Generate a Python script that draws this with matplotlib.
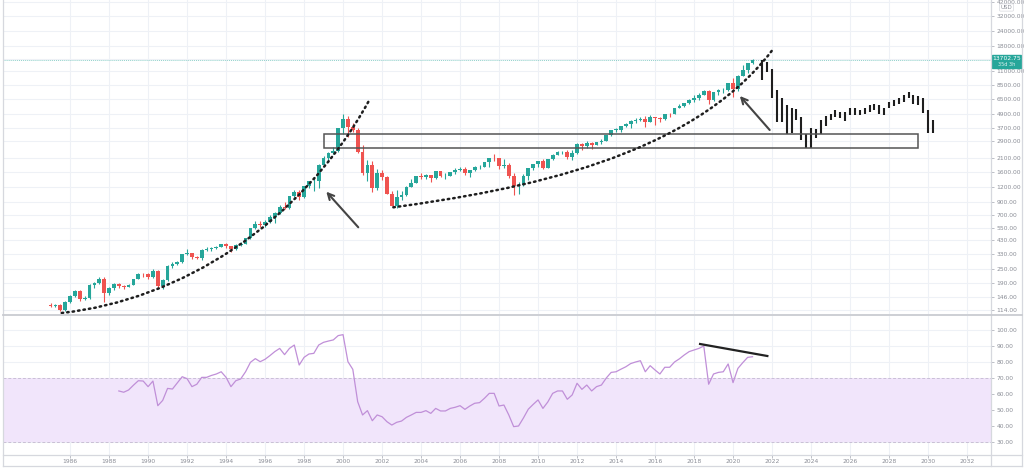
import numpy as np
import matplotlib
matplotlib.use("Agg")
import matplotlib.pyplot as plt
from matplotlib.patches import Rectangle, PathPatch
from matplotlib.path import Path
from matplotlib.lines import Line2D

# quarterly candles, 1985 Q1 .. 2021 Q1
first_year = 1985.0
first_open = 125
closes = [122, 124, 113, 132,  148, 162, 139, 141,  182, 190, 205, 156,
          171, 186, 180, 177,  183, 204, 226, 224,  212, 240, 179, 200,
          263, 275, 286, 331,  336, 311, 305, 360,  363, 372, 380, 398,
          384, 362, 394, 404,  448, 542, 590, 576,  612, 678, 730, 821,
          806, 1000, 1097, 991,  1220, 1337, 1345, 1836,  2106, 2296, 2407, 3708,
          4397, 3763, 3570, 2342,  1573, 1830, 1168, 1577,  1452, 1051, 832, 984,
          1018, 1201, 1303, 1468,  1438, 1516, 1412, 1621,  1483, 1493, 1601, 1645,
          1703, 1575, 1654, 1757,  1772, 1934, 2091, 2085,  1781, 1837, 1483, 1212,
          1237, 1477, 1720, 1860,  1957, 1740, 2036, 2218,  2338, 2340, 2135, 2278,
          2755, 2616, 2799, 2661,  2818, 2910, 3218, 3592,  3596, 3850, 4050, 4236,
          4334, 4397, 4181, 4593,  4484, 4418, 4875, 4864,  5436, 5647, 5980, 6396,
          6581, 7040, 7628, 6330,  7378, 7672, 7750, 8733,  7813, 10157, 11418, 12888,
          13703]
highs = [130, 128, 127, 134,  152, 166, 165, 147,  186, 194, 213, 214,
         176, 189, 190, 184,  186, 205, 229, 232,  228, 246, 244, 204,
         266, 285, 292, 333,  364, 340, 320, 362,  378, 380, 388, 405,
         412, 388, 398, 420,  450, 545, 624, 620,  640, 700, 735, 850,
         900, 1010, 1140, 1130,  1230, 1340, 1450, 1850,  2180, 2330, 2560, 3720,
         4816, 4710, 4100, 3700,  2700, 2020, 1980, 1700,  1670, 1480, 1100, 1120,
         1100, 1230, 1400, 1480,  1560, 1530, 1520, 1630,  1630, 1560, 1610, 1720,
         1750, 1760, 1670, 1800,  1840, 1950, 2100, 2239,  2090, 2060, 1900, 1560,
         1320, 1530, 1730, 1870,  1970, 2040, 2040, 2240,  2400, 2400, 2440, 2420,
         2760, 2790, 2880, 2860,  2850, 3030, 3250, 3600,  3740, 3860, 4120, 4330,
         4480, 4570, 4700, 4730,  4610, 4580, 4890, 4930,  5440, 5900, 6000, 6450,
         7020, 7280, 7700, 7700,  7480, 7850, 8040, 8740,  9720, 10300, 12440, 12930,
         13870]
lows = [119, 119, 111, 111,  130, 144, 134, 136,  140, 172, 187, 131,
        152, 166, 172, 170,  175, 181, 203, 212,  205, 210, 172, 168,
        197, 254, 268, 278,  325, 301, 300, 296,  350, 352, 365, 377,
        375, 345, 358, 388,  398, 445, 540, 560,  560, 600, 600, 720,
        790, 780, 990, 930,  970, 1170, 1110, 1180,  1800, 1930, 2240, 2330,
        3340, 3100, 3440, 2280,  1520, 1350, 1090, 1140,  1380, 1040, 830, 795,
        935, 1010, 1190, 1300,  1400, 1390, 1330, 1400,  1460, 1390, 1490, 1530,
        1640, 1510, 1450, 1640,  1700, 1760, 1770, 1990,  1700, 1740, 1430, 1018,
        1043, 1210, 1380, 1650,  1750, 1700, 1730, 2010,  2200, 2250, 2040, 2030,
        2270, 2450, 2540, 2500,  2660, 2750, 2890, 3160,  3420, 3410, 3770, 3700,
        4090, 4290, 3790, 4170,  3950, 4200, 4350, 4590,  4860, 5430, 5590, 5930,
        6170, 6310, 7000, 5895,  6290, 6980, 7320, 7560,  6771, 7500, 10000, 10680,
        12600]

# projected (drawn) bars, 2021 Q3 .. 2030 Q2
proj_start = 2021.5
proj_high = [13703, 13264, 11614, 7704, 6559, 5776, 5421, 5319, 4576, 3281, 3730, 3617,
             4333, 4638, 4899, 5209, 5045, 5045, 5421, 5421, 5209, 5421, 5776, 5891,
             5776, 5500, 6125, 6329, 6559, 6976, 7436, 6976, 6843, 6559, 5209, 4333]
proj_low = [9265, 10903, 6559, 4192, 4192, 3281, 3387, 4333, 2977, 2525, 2525, 3071,
            3281, 3853, 4333, 4576, 4523, 4276, 4729, 4729, 4729, 4899, 5045, 5209,
            4823, 4729, 5421, 5667, 5891, 6125, 6559, 5942, 5776, 4954, 3387, 3387]

# RSI(14), quarterly, 1988 Q3 .. 2021 Q1
rsi_start = 1988.5
rsi = [61.9, 61.1, 62.5, 65.5, 68.3, 68.1, 64.6, 68.1, 52.7, 56.0, 63.5, 63.1,
       67.0, 70.8, 69.6, 64.6, 66.1, 70.4, 70.4, 71.6, 72.5, 73.9, 70.4, 64.6,
       68.3, 69.4, 73.9, 79.8, 82.1, 80.2, 81.7, 84.0, 86.5, 88.5, 84.6, 88.5,
       90.6, 78.1, 82.9, 85.0, 85.4, 90.6, 92.3, 93.1, 93.8, 96.5, 97.1, 80.2,
       75.4, 55.2, 46.9, 49.6, 43.3, 46.9, 45.8, 42.7, 40.6, 42.3, 43.1, 45.4,
       46.9, 48.5, 48.5, 49.6, 47.9, 51.0, 49.4, 49.4, 51.0, 51.7, 52.7, 50.4,
       52.5, 54.2, 54.6, 57.3, 60.4, 60.4, 52.5, 53.1, 46.9, 39.6, 40.0, 45.0,
       50.5, 53.5, 56.3, 51.0, 55.0, 60.4, 61.9, 61.9, 56.7, 59.4, 66.7, 62.9,
       65.6, 61.9, 64.6, 65.6, 70.0, 73.5, 73.9, 75.5, 77.0, 79.0, 80.0, 80.8,
       73.9, 77.7, 75.0, 72.5, 76.7, 76.7, 80.0, 82.0, 84.4, 86.5, 87.5, 88.5,
       90.0, 66.1, 72.5, 73.5, 73.9, 78.8, 67.1, 76.0, 79.6, 82.9, 83.3]

last_price = 13702.75
price_ticks = [114, 146, 190, 250, 330, 430, 550, 700, 900, 1200, 1600, 2100, 2900,
               3700, 4900, 6500, 8500, 11000, 14000, 18000, 24000, 32000, 42000]
hidden_tick = 14000  # sits behind the last-price label
rsi_ticks = [30, 40, 50, 60, 70, 80, 90, 100]
year_ticks = list(range(1986, 2033, 2))

# drawings
box_years = (1999.03, 2029.5)
box_prices = (2525, 3298)
curve1 = [(1985.57, 106.8), (1991.64, 137.0), (1997.80, 578), (2001.30, 6157)]
curve2 = [(2002.58, 811), (2009.08, 1131), (2017.80, 2091), (2021.99, 16364)]
arrow1 = ((2000.78, 553), (1999.14, 1095))
arrow2 = ((2021.88, 3577), (2020.35, 6868))
rsi_trend = ((2018.31, 91.25), (2021.76, 83.75))

UP, DOWN = "#26a69a", "#ef5350"
GRID = "#eef1f6"
TXT = "#8a8d96"
W, H = 1024, 469

fig = plt.figure(figsize=(10.24, 4.69), dpi=100)
fig.patch.set_facecolor("white")
ax = fig.add_axes([3 / W, 1 - 314 / H, 988 / W, 314 / H])
ax2 = fig.add_axes([3 / W, 1 - 455 / H, 988 / W, 139 / H])

for a in (ax, ax2):
    a.set_xlim(1982.56, 2033.23)
    for s in a.spines.values():
        s.set_visible(False)
    a.set_xticks(year_ticks)
    a.grid(True, color=GRID, lw=0.8)
    a.set_axisbelow(True)
    a.yaxis.tick_right()
    a.tick_params(axis="y", length=2.5, width=0.6, color="#b2b5be",
                  labelsize=4.3, labelcolor=TXT, pad=1.5)

# candles
n = len(closes)
x = first_year + 0.25 * np.arange(n)
c = np.array(closes, float)
o = np.concatenate([[first_open], c[:-1]])
hi = np.array(highs, float)
lo = np.array(lows, float)
col = np.where(c >= o, UP, DOWN)
ax.vlines(x, lo, hi, colors=col, lw=0.8, zorder=3)
bot = np.minimum(o, c)
top = np.maximum(np.maximum(o, c), bot * 1.006)
ax.bar(x, top - bot, bottom=bot, width=0.19, color=col, lw=0, zorder=4)

# projected bars
xp = proj_start + 0.25 * np.arange(len(proj_high))
ax.vlines(xp, proj_low, proj_high, colors="#1e1e1e", lw=1.5, zorder=4)

ax.set_yscale("log")
ax.set_ylim(104.7, 43332)
ax.minorticks_off()
ax.set_yticks(price_ticks)
ax.set_yticklabels(["" if v == hidden_tick else f"{v:.2f}" for v in price_ticks])
ax.tick_params(axis="x", length=0, labelbottom=False)
ax.axhline(last_price, color=UP, lw=0.7, ls=(0, (1, 1)), alpha=0.5, zorder=2)

ax.add_patch(Rectangle((box_years[0], box_prices[0]), box_years[1] - box_years[0],
                       box_prices[1] - box_prices[0], fill=False, ec="#555555",
                       lw=1.1, zorder=5))
codes = [Path.MOVETO, Path.CURVE4, Path.CURVE4, Path.CURVE4]
for cv in (curve1, curve2):
    ax.add_patch(PathPatch(Path(cv, codes), fill=False, ec="#1e1e1e", lw=1.8,
                           ls=(0, (0.6, 1.6)), capstyle="round", zorder=5))
for tail, head in (arrow1, arrow2):
    ax.annotate("", xy=head, xytext=tail,
                arrowprops=dict(arrowstyle="->", color="#444444", lw=1.5,
                                mutation_scale=11, shrinkA=0, shrinkB=0), zorder=6)

# RSI pane
xr = rsi_start + 0.25 * np.arange(len(rsi))
ax2.set_ylim(21.875, 108.75)
ax2.axhspan(30, 70, color="#f1e5fb", lw=0, zorder=1)
for lvl in (30, 70):
    ax2.axhline(lvl, color="#c9bfd6", lw=0.7, ls=(0, (3, 2)), zorder=2)
ax2.plot(xr, rsi, color="#c08fd8", lw=0.9, zorder=4)
ax2.plot(*zip(*rsi_trend), color="#222222", lw=1.6, zorder=5)
ax2.set_yticks(rsi_ticks)
ax2.set_yticklabels([f"{v:.2f}" for v in rsi_ticks])
ax2.set_xticklabels([str(v) for v in year_ticks])
ax2.tick_params(axis="x", length=2, width=0.6, color="#b2b5be", labelsize=4.3,
                labelcolor=TXT, pad=1.0)

# frame / separators
def fline(x0, y0, x1, y1, c="#d6d8de", lw=0.9):
    fig.add_artist(Line2D([x0 / W, x1 / W], [1 - y0 / H, 1 - y1 / H], color=c, lw=lw))

fline(3, 0, 3, 466)
fline(1022, 0, 1022, 466)
fline(3, 466, 1022, 466)
fline(991, 0, 991, 466)
fline(3, 315, 1022, 315, c="#c9cbd1", lw=1.3)
fline(3, 455, 1022, 455)

# last price label
fig.add_artist(Rectangle((992 / W, 1 - 68 / H), 29 / W, 13 / H, color=UP,
                         transform=fig.transFigure))
fig.text(1006.5 / W, 1 - 58.5 / H, "13702.75", color="white", fontsize=4.3,
         ha="center", va="center")
fig.text(1006.5 / W, 1 - 64.5 / H, "35d 3h", color="white", fontsize=3.6,
         ha="center", va="center", alpha=0.85)
fig.text(1006.5 / W, 1 - 7.5 / H, "USD", color=TXT, fontsize=4.0, ha="center",
         va="center", bbox=dict(boxstyle="round,pad=0.2", fc="white",
                                ec="#d6d8de", lw=0.5))

fig.savefig("out.png", dpi=100, facecolor="white")
